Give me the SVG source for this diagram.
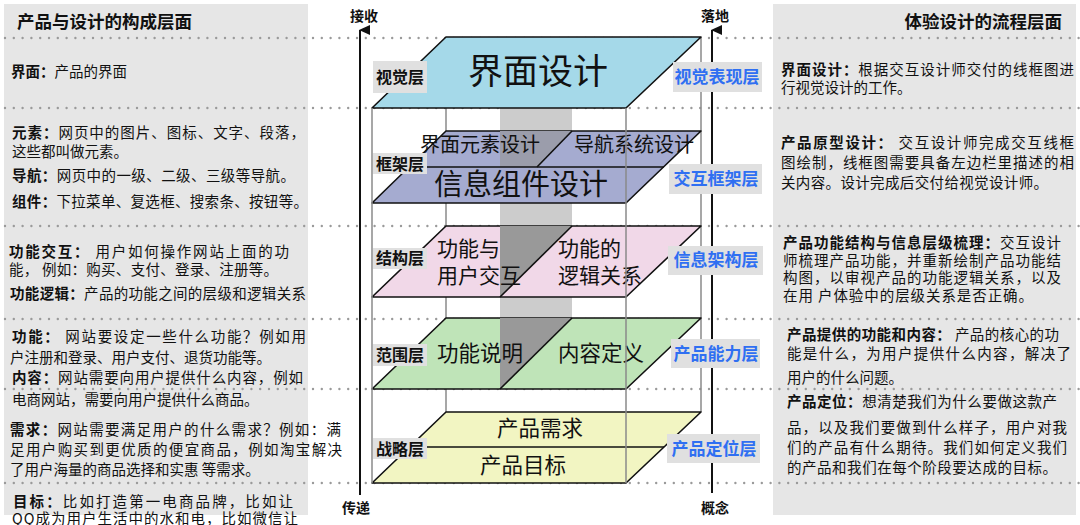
<svg xmlns="http://www.w3.org/2000/svg" width="1080" height="525" viewBox="0 0 1080 525">
<style>
text{font-family:"Noto Sans CJK SC","Noto Sans",sans-serif;fill:#111;}
.t{font-size:14.5px;}
.b{font-weight:bold;}
.title{font-size:17.5px;font-weight:bold;}
.lab{font-size:16px;font-weight:bold;text-anchor:middle;}
.rlab{font-size:17px;font-weight:bold;fill:#2f6ff2;text-anchor:middle;}
.big{text-anchor:middle;}
.dot{stroke:#9a9a9a;stroke-width:2.4;stroke-linecap:round;stroke-dasharray:0 8.8;fill:none;}
.vl{stroke:#8a8a8a;stroke-width:1.5;fill:none;}
.pl{stroke:#111;stroke-width:1.6;stroke-linejoin:round;}
.box{fill:#e0e0e0;}
.ax{font-size:14px;font-weight:bold;text-anchor:middle;}
</style>
<defs>
<marker id="ah" markerWidth="10" markerHeight="12" refX="5" refY="1" orient="auto-start-reverse" markerUnits="userSpaceOnUse" viewBox="0 0 10 12">
<path d="M0,11 L5,0 L10,11 Z" fill="#111"/>
</marker>
</defs>
<rect width="1080" height="525" fill="#fff"/>
<g id="left-panel">
<rect x="4" y="4" width="304" height="511" fill="#e6e6e6"/>
</g>
<g id="right-panel">
<rect x="773" y="4" width="303" height="511" fill="#e6e6e6"/>
</g>
<g id="dotted-lines">
<line class="dot" x1="5" y1="38" x2="1080" y2="38"/>
<line class="dot" x1="5" y1="108" x2="1080" y2="108"/>
<line class="dot" x1="5" y1="226" x2="1080" y2="226"/>
<line class="dot" x1="5" y1="319" x2="1080" y2="319"/>
<line class="dot" x1="5" y1="389" x2="1080" y2="389"/>
<line class="dot" x1="5" y1="483" x2="1080" y2="483"/>
</g>
<g id="band">
<rect x="500" y="108" width="72" height="210" fill="#cccccc"/>
</g>
<g id="back-edges">
<line class="vl" x1="446" y1="108" x2="446" y2="412"/>
<line class="vl" x1="701" y1="37" x2="701" y2="412"/>
</g>
<g id="layer-strategy">
<polygon class="pl" points="446,412 701,412 626,483 372,483" fill="#f2f5c2"/>
<line class="pl" x1="409" y1="447" x2="664" y2="447"/>
<text class="big" x="540" y="436" font-size="21.5">产品需求</text>
<text class="big" x="523" y="473" font-size="21.5">产品目标</text>
</g>
<g id="layer-scope">
<polygon class="pl" points="446,318 701,318 626,389 372,389" fill="#bfe4b8"/>
<polygon points="500,318 572,318 500,389" fill="#999999"/>
<line class="pl" x1="572" y1="318" x2="500" y2="389"/>
<text x="437" y="361" font-size="21.5">功能说明</text>
<text x="558" y="361" font-size="21.5">内容定义</text>
</g>
<g id="layer-structure">
<polygon class="pl" points="446,226 701,226 626,297 372,297" fill="#f1d8e8"/>
<polygon points="500,226 572,226 500,297" fill="#999999"/>
<line class="pl" x1="572" y1="226" x2="500" y2="297"/>
<text x="437" y="255.5" font-size="21">功能与</text>
<text x="437" y="282.5" font-size="21">用户交互</text>
<text x="558" y="255.5" font-size="21">功能的</text>
<text x="558" y="282.5" font-size="21">逻辑关系</text>
</g>
<g id="layer-skeleton">
<polygon class="pl" points="446,131 701,131 626,203 372,203" fill="#a5abd0"/>
<polygon points="500,131 572,131 537,167 500,167" fill="#9b9dab"/>
<line class="pl" x1="409" y1="167" x2="664" y2="167"/>
<line class="pl" x1="572" y1="131" x2="537" y2="167"/>
<text class="big" x="480" y="152" font-size="20">界面元素设计</text>
<text class="big" x="634" y="152" font-size="20">导航系统设计</text>
<text class="big" x="521" y="195" font-size="29">信息组件设计</text>
</g>
<g id="layer-surface">
<polygon class="pl" points="446,37 701,37 626,108 372,108" fill="#a5d9e9"/>
<text class="big" x="538" y="84" font-size="35">界面设计</text>
</g>
<g id="front-edges">
<line class="vl" x1="372" y1="108" x2="372" y2="483"/>
<line class="vl" x1="626" y1="108" x2="626" y2="483"/>
</g>
<g id="connectors">
<line x1="360" y1="495" x2="360" y2="30" stroke="#111" stroke-width="2" marker-end="url(#ah)"/>
<line x1="712" y1="493" x2="712" y2="30" stroke="#111" stroke-width="2" marker-end="url(#ah)"/>
</g>
<g id="axis-labels">
<text class="ax" x="364" y="21">接收</text>
<text class="ax" x="715" y="21">落地</text>
<text class="ax" x="356" y="513">传递</text>
<text class="ax" x="715" y="513">概念</text>
</g>
<g id="left-labels">
<rect class="box" x="373" y="61" width="54" height="32"/>
<text class="lab" x="400" y="83">视觉层</text>
<rect class="box" x="373" y="153" width="54" height="21"/>
<text class="lab" x="400" y="170">框架层</text>
<rect class="box" x="373" y="248" width="54" height="21"/>
<text class="lab" x="400" y="264">结构层</text>
<rect class="box" x="373" y="344" width="54" height="22"/>
<text class="lab" x="400" y="361">范围层</text>
<rect class="box" x="373" y="438" width="54" height="21"/>
<text class="lab" x="400" y="455">战略层</text>
</g>
<g id="right-labels">
<rect class="box" x="673" y="62" width="89" height="30"/>
<text class="rlab" x="717" y="83">视觉表现层</text>
<rect class="box" x="669" y="164" width="93" height="30"/>
<text class="rlab" x="716" y="185">交互框架层</text>
<rect class="box" x="668" y="246" width="95" height="29"/>
<text class="rlab" x="716" y="266">信息架构层</text>
<rect class="box" x="671" y="339" width="89" height="29"/>
<text class="rlab" x="716" y="360">产品能力层</text>
<rect class="box" x="667" y="434" width="93" height="29"/>
<text class="rlab" x="714" y="455">产品定位层</text>
</g>
<g id="left-text">
<text class="title" x="17" y="28">产品与设计的构成层面</text>
<text class="t" x="11" y="77"><tspan class="b">界面：</tspan>产品的界面</text>
<text class="t" x="12" y="138" textLength="293" lengthAdjust="spacing"><tspan class="b">元素：</tspan>网页中的图片、图标、文字、段落，</text>
<text class="t" x="12" y="157">这些都叫做元素。</text>
<text class="t" x="12" y="181" textLength="283" lengthAdjust="spacing"><tspan class="b">导航：</tspan>网页中的一级、二级、三级等导航。</text>
<text class="t" x="12" y="207" textLength="296" lengthAdjust="spacing"><tspan class="b">组件：</tspan>下拉菜单、复选框、搜索条、按钮等。</text>
<text class="t" x="9" y="257" textLength="280" lengthAdjust="spacing"><tspan class="b">功能交互：</tspan> 用户如何操作网站上面的功</text>
<text class="t" x="9" y="275" textLength="269" lengthAdjust="spacing">能， 例如：购买、支付、登录、注册等。</text>
<text class="t" x="10" y="299" textLength="296" lengthAdjust="spacing"><tspan class="b">功能逻辑：</tspan>产品的功能之间的层级和逻辑关系</text>
<text class="t" x="12" y="342" textLength="294" lengthAdjust="spacing"><tspan class="b">功能：</tspan> 网站要设定一些什么功能？例如用</text>
<text class="t" x="10" y="363">户注册和登录、用户支付、退货功能等。</text>
<text class="t" x="12" y="383" textLength="291" lengthAdjust="spacing"><tspan class="b">内容：</tspan>网站需要向用户提供什么内容，例如</text>
<text class="t" x="12" y="405">电商网站，需要向用户提供什么商品。</text>
<text class="t" x="10" y="435" textLength="331" lengthAdjust="spacing"><tspan class="b">需求：</tspan>网站需要满足用户的什么需求？例如：满</text>
<text class="t" x="10" y="455" textLength="332" lengthAdjust="spacing">足用户购买到更优质的便宜商品，例如淘宝解决</text>
<text class="t" x="10" y="475">了用户海量的商品选择和实惠 等需求。</text>
<text class="t" x="13" y="507" textLength="280" lengthAdjust="spacing"><tspan class="b">目标：</tspan>比如打造第一电商品牌，比如让</text>
<text class="t" x="12" y="524" textLength="286" lengthAdjust="spacing">QQ成为用户生活中的水和电，比如微信让</text>
</g>
<g id="right-text">
<text class="title" x="1062" y="28" text-anchor="end">体验设计的流程层面</text>
<text class="t" x="781" y="75" textLength="293" lengthAdjust="spacing"><tspan class="b">界面设计：</tspan>根据交互设计师交付的线框图进</text>
<text class="t" x="781" y="93">行视觉设计的工作。</text>
<text class="t" x="781" y="148" textLength="293" lengthAdjust="spacing"><tspan class="b">产品原型设计：</tspan>  交互设计师完成交互线框</text>
<text class="t" x="781" y="168" textLength="293" lengthAdjust="spacing">图绘制，线框图需要具备左边栏里描述的相</text>
<text class="t" x="781" y="188" textLength="267" lengthAdjust="spacing">关内容。设计完成后交付给视觉设计师。</text>
<text class="t" x="783" y="248" textLength="278" lengthAdjust="spacing"><tspan class="b">产品功能结构与信息层级梳理：</tspan>交互设计</text>
<text class="t" x="783" y="265.5" textLength="278" lengthAdjust="spacing">师梳理产品功能，并重新绘制产品功能结</text>
<text class="t" x="783" y="283" textLength="278" lengthAdjust="spacing">构图，以审视产品的功能逻辑关系，以及</text>
<text class="t" x="783" y="300.5" textLength="250" lengthAdjust="spacing">在用 户体验中的层级关系是否正确。</text>
<text class="t" x="787" y="340" textLength="272" lengthAdjust="spacing"><tspan class="b">产品提供的功能和内容：</tspan>  产品的核心的功</text>
<text class="t" x="787" y="359" textLength="284" lengthAdjust="spacing">能是什么，为用户提供什么内容，解决了</text>
<text class="t" x="787" y="383">用户的什么问题。</text>
<text class="t" x="787" y="407" textLength="270" lengthAdjust="spacing"><tspan class="b">产品定位：</tspan>想清楚我们为什么要做这款产</text>
<text class="t" x="787" y="433" textLength="280" lengthAdjust="spacing">品，以及我们要做到什么样子，用户对我</text>
<text class="t" x="787" y="453" textLength="280" lengthAdjust="spacing">们的产品有什么期待。我们如何定义我们</text>
<text class="t" x="787" y="473" textLength="270" lengthAdjust="spacing">的产品和我们在每个阶段要达成的目标。</text>
</g>
</svg>
